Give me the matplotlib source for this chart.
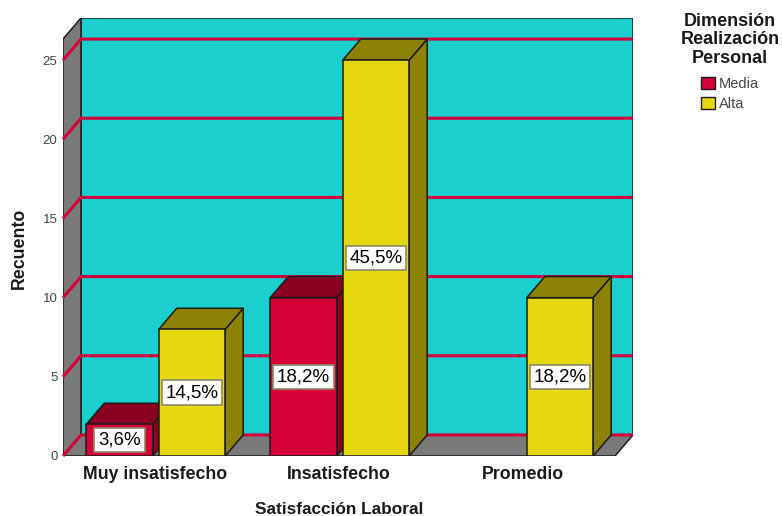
import matplotlib
matplotlib.use("Agg")
import matplotlib.pyplot as plt
from matplotlib.patches import Patch, Polygon

plt.rcParams["font.family"] = ["Liberation Sans", "DejaVu Sans"]

categories = ["Muy insatisfecho", "Insatisfecho", "Promedio"]
series_names = ["Media", "Alta"]
media_counts = [2, 10, 0]
alta_counts = [8, 25, 10]
media_labels = ["3,6%", "18,2%", ""]
alta_labels = ["14,5%", "45,5%", "18,2%"]
y_ticks = [0, 5, 10, 15, 20, 25]

WALL = "#1bcfcf"
GREY = "#7a7a7a"
GRID = "#d3003a"
RED, RED_DARK = "#d60036", "#8a0021"
YEL, YEL_DARK = "#e5d80e", "#8c8205"
EDGE = "#1c1c1c"

W, H = 782, 516
# pixel frame of the front plane, the 3D depth is added on top of it
x0_px, x1_px = 63, 633
y0_px, y1_px = 456, 18
px_per_cat, px_per_unit = 184.0, 15.8
DX, DY = 18 / px_per_cat, 21 / px_per_unit   # depth offset in data units
BAR_W = 0.361
OFF_MEDIA, OFF_ALTA = -0.193, 0.201
XMIN, XMAX = -0.5, 2.5
YTOP = 26.33

fig = plt.figure(figsize=(W / 100, H / 100), dpi=100)
ax = fig.add_axes([x0_px / W, 1 - y0_px / H, (x1_px - x0_px) / W, (y0_px - y1_px) / H])
ax.set_xlim(XMIN, XMAX + DX)
ax.set_ylim(0, YTOP + DY)
for s in ax.spines.values():
    s.set_visible(False)


def poly(pts, fc, z=1, lw=1.1):
    ax.add_patch(Polygon(pts, closed=True, fc=fc, ec=EDGE, lw=lw, zorder=z, joinstyle="round"))


# walls and floor
poly([(XMIN + DX, DY), (XMAX + DX, DY), (XMAX + DX, YTOP + DY), (XMIN + DX, YTOP + DY)], WALL)
poly([(XMIN, 0), (XMIN + DX, DY), (XMIN + DX, YTOP + DY), (XMIN, YTOP)], GREY)
poly([(XMIN, 0), (XMAX, 0), (XMAX + DX, DY), (XMIN + DX, DY)], GREY)

# gridlines run along the back wall and fold down the side wall
for t in y_ticks:
    ax.plot([XMIN, XMIN + DX, XMAX + DX], [t, t + DY, t + DY], color=GRID, lw=2.2,
            zorder=2, solid_capstyle="butt", clip_on=False)


def bar3d(xc, val, front, dark):
    l, r = xc - BAR_W / 2, xc + BAR_W / 2
    poly([(r, 0), (r + DX, DY), (r + DX, val + DY), (r, val)], dark, z=3)
    poly([(l, val), (r, val), (r + DX, val + DY), (l + DX, val + DY)], dark, z=3)
    poly([(l, 0), (r, 0), (r, val), (l, val)], front, z=3)


for i in range(len(categories)):
    if media_counts[i] > 0:
        bar3d(i + OFF_MEDIA, media_counts[i], RED, RED_DARK)
    if alta_counts[i] > 0:
        bar3d(i + OFF_ALTA, alta_counts[i], YEL, YEL_DARK)

box = dict(boxstyle="square,pad=0.2", fc="white", ec="#8a8a6a", lw=1.2)
for i in range(len(categories)):
    if media_labels[i]:
        ax.text(i + OFF_MEDIA, media_counts[i] / 2, media_labels[i], ha="center", va="center",
                fontsize=13.5, color="black", bbox=box, zorder=5)
    if alta_labels[i]:
        ax.text(i + OFF_ALTA, alta_counts[i] / 2, alta_labels[i], ha="center", va="center",
                fontsize=13.5, color="black", bbox=box, zorder=5)

ax.set_xticks(range(len(categories)))
ax.set_xticklabels(categories, fontsize=12.8, fontweight="bold", color="#1a1a1a")
ax.set_yticks(y_ticks)
ax.set_yticklabels([str(t) for t in y_ticks], fontsize=9.5, color="#444444")
ax.tick_params(axis="both", length=0)
ax.tick_params(axis="x", pad=7)
ax.tick_params(axis="y", pad=4)

fig.text(339 / W, 1 - 509 / H, "Satisfacción Laboral", ha="center", va="center",
         fontsize=12.4, fontweight="bold", color="#1a1a1a")
fig.text(19 / W, 1 - 248 / H, "Recuento", rotation=90, ha="center", va="center",
         fontsize=12.8, fontweight="bold", color="#1a1a1a")

fig.text(730 / W, 1 - 40 / H, "Dimensión\nRealización\nPersonal", ha="center", va="center",
         multialignment="center", linespacing=1.15, fontsize=13, fontweight="bold",
         color="#1a1a1a")

handles = [Patch(fc=RED, ec=EDGE, lw=1.0, label=series_names[0]),
           Patch(fc=YEL, ec=EDGE, lw=1.0, label=series_names[1])]
fig.legend(handles=handles, frameon=False, loc="upper left",
           bbox_to_anchor=(697 / W, 1 - 73 / H), fontsize=10.5,
           handlelength=0.95, handleheight=0.9, handletextpad=0.25, labelspacing=0.35,
           borderpad=0.3, borderaxespad=0, labelcolor="#444444")

fig.savefig("out.png", dpi=100)
